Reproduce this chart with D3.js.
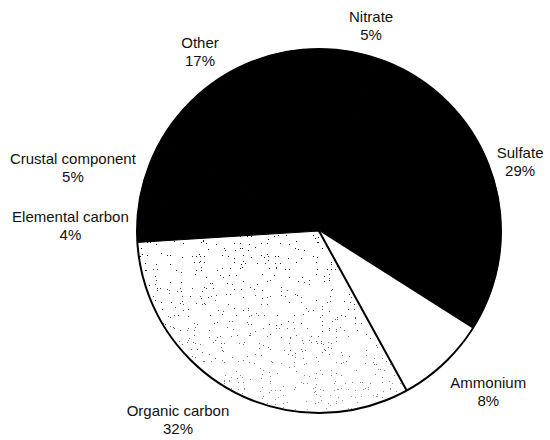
<!DOCTYPE html>
<html>
<head>
<meta charset="utf-8">
<script src="https://cdn.jsdelivr.net/npm/d3@7"></script>
<style>
  html, body { margin: 0; padding: 0; background: #fff; }
  svg { display: block; }
  text { font-family: "Liberation Sans", Arial, sans-serif; font-size: 15px; fill: #111; }
</style>
</head>
<body>
<svg id="chart" width="550" height="440"></svg>
<script>
// Composition of fine particulate matter (share of total mass, %)
const components = ["Nitrate", "Sulfate", "Ammonium", "Organic carbon",
                    "Elemental carbon", "Crustal component", "Other"];
const shares = [5, 29, 8, 32, 4, 5, 17];
const fills = ["black", "black", "white", "stipple", "black", "black", "black"];

const W = 550, H = 440;
const cx = 319, cy = 231, R = 182;

// label placement: radius for the label ring plus small per-label nudges
const labelRadius = 218;
const labelNudge = {
  "Nitrate": [18, 10],
  "Sulfate": [-4, 5],
  "Ammonium": [20, 2],
  "Organic carbon": [-36, -2],
  "Elemental carbon": [-31, 9],
  "Crustal component": [-41, 11],
  "Other": [-8, 9]
};

const data = components.map((name, i) => ({ name, value: shares[i], fill: fills[i] }));

const svg = d3.select("#chart");
const defs = svg.append("defs");

// speckled texture for the organic carbon wedge
const filt = defs.append("filter").attr("id", "speckle")
  .attr("x", 0).attr("y", 0).attr("width", "100%").attr("height", "100%")
  .attr("filterUnits", "objectBoundingBox");
filt.append("feTurbulence").attr("type", "fractalNoise")
  .attr("baseFrequency", 0.85).attr("numOctaves", 2).attr("seed", 11).attr("result", "n");
filt.append("feColorMatrix").attr("in", "n").attr("type", "matrix")
  .attr("values", "0 0 0 0 0  0 0 0 0 0  0 0 0 0 0  1 0 0 0 0").attr("result", "a");
const ct = filt.append("feComponentTransfer");
ct.append("feFuncA").attr("type", "discrete")
  .attr("tableValues", "0 0 0 0 0 0 0 0 0 0 0 0 0 0 0 1 1 1 1 1");

// density falls off away from the top edge of the wedge
const grad = defs.append("linearGradient").attr("id", "fade")
  .attr("x1", 0).attr("y1", 0).attr("x2", 0).attr("y2", 1);
grad.append("stop").attr("offset", "0").attr("stop-color", "white").attr("stop-opacity", 1);
grad.append("stop").attr("offset", "0.25").attr("stop-color", "white").attr("stop-opacity", 0.75);
grad.append("stop").attr("offset", "1").attr("stop-color", "white").attr("stop-opacity", 0.35);
defs.append("mask").attr("id", "fadeMask")
  .attr("maskUnits", "userSpaceOnUse").attr("x", 0).attr("y", 0).attr("width", W).attr("height", H)
  .append("rect").attr("x", cx - R).attr("y", cy).attr("width", 2 * R).attr("height", R + 5)
  .attr("fill", "url(#fade)");

const pie = d3.pie().value(d => d.value).sort(null).startAngle(0).endAngle(2 * Math.PI);
const arcs = pie(data);
const arc = d3.arc().innerRadius(0).outerRadius(R);
const labelArc = d3.arc().innerRadius(labelRadius).outerRadius(labelRadius);

const g = svg.append("g").attr("transform", `translate(${cx},${cy})`);

// wedges
g.selectAll("path.slice").data(arcs).join("path")
  .attr("class", "slice")
  .attr("d", arc)
  .attr("fill", d => d.data.fill === "black" ? "#000" : "#fff")
  .attr("stroke", d => d.data.fill === "black" ? "#000" : "none");

// speckle fill clipped to the stippled wedges
arcs.filter(d => d.data.fill === "stipple").forEach((d, i) => {
  const id = "clip" + i;
  defs.append("clipPath").attr("id", id).append("path")
    .attr("d", arc(d)).attr("transform", `translate(${cx},${cy})`);
  svg.append("g").attr("clip-path", `url(#${id})`).attr("mask", "url(#fadeMask)")
    .append("rect").attr("x", cx - R).attr("y", cy - 30).attr("width", 2 * R).attr("height", R + 40)
    .attr("fill", "#000").attr("filter", "url(#speckle)");
});

// outline of the pie and the radial edge of the white wedge
svg.append("circle").attr("cx", cx).attr("cy", cy).attr("r", R)
  .attr("fill", "none").attr("stroke", "#000").attr("stroke-width", 2);
const ammon = arcs.find(d => d.data.name === "Ammonium");
svg.append("line")
  .attr("x1", cx).attr("y1", cy)
  .attr("x2", cx + R * Math.sin(ammon.endAngle)).attr("y2", cy - R * Math.cos(ammon.endAngle))
  .attr("stroke", "#000").attr("stroke-width", 2);

// labels: name on the first line, share on the second
const labels = g.selectAll("text.lbl").data(arcs).join("text")
  .attr("class", "lbl")
  .attr("text-anchor", "middle")
  .attr("transform", d => {
    const [x, y] = labelArc.centroid(d);
    const [nx, ny] = labelNudge[d.data.name] || [0, 0];
    return `translate(${x + nx},${y + ny})`;
  });
labels.append("tspan").attr("x", 0).attr("y", -4).text(d => d.data.name);
labels.append("tspan").attr("x", 0).attr("y", 14).text(d => d.data.value + "%");
</script>
</body>
</html>
